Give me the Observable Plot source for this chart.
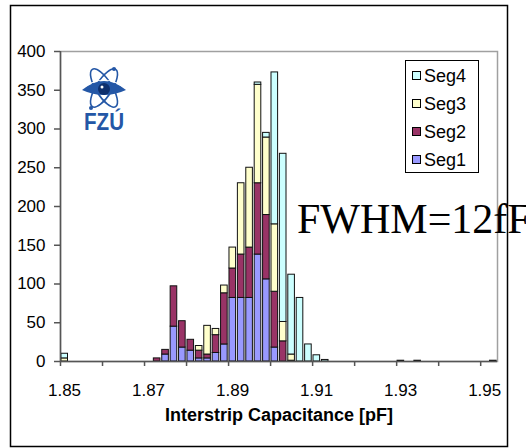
<!DOCTYPE html>
<html>
<head>
<meta charset="utf-8">
<script src="https://cdn.jsdelivr.net/npm/d3@7"></script>
<script src="https://cdn.jsdelivr.net/npm/@observablehq/plot@0.6"></script>
<style>
  html, body { margin: 0; padding: 0; background: #fff; }
  svg { display: block; }
</style>
</head>
<body>
<div id="chart"></div>
<script>
// ---- data ----
const series = ["Seg1", "Seg2", "Seg3", "Seg4"];
const seriesColors = ["#9999ff", "#993366", "#ffffcc", "#ccffff"];
const binWidth = 0.002;
const binStarts = [1.850, 1.872, 1.874, 1.876, 1.878, 1.880, 1.882, 1.884, 1.886, 1.888,
                   1.890, 1.892, 1.894, 1.896, 1.898, 1.900, 1.902, 1.904, 1.906, 1.908,
                   1.910, 1.912, 1.930, 1.934, 1.952];
const seg1 = [0, 0, 9, 45, 18, 14, 4, 4, 11, 22, 82, 82, 82, 138, 106, 18, 0, 0, 0, 0, 0, 0, 0, 0, 0];
const seg2 = [0, 4, 6, 52, 34, 14, 10, 5, 23, 66, 38, 56, 65, 92, 83, 72, 26, 1, 0, 0, 0, 0, 0, 0, 0];
const seg3 = [4, 0, 0, 0, 0, 0, 6, 37, 8, 10, 27, 92, 103, 127, 100, 87, 25, 8, 0, 0, 0, 0, 0, 0, 0];
const seg4 = [6, 0, 0, 0, 0, 0, 0, 0, 0, 0, 0, 0, 0, 3, 6, 196, 217, 103, 82, 22, 8, 2, 1, 1, 1];
const yTicks = [0, 50, 100, 150, 200, 250, 300, 350, 400];
const xTickMarks = [1.85, 1.86, 1.87, 1.88, 1.89, 1.90, 1.91, 1.92, 1.93, 1.94, 1.95];
const xTickLabels = [1.85, 1.87, 1.89, 1.91, 1.93, 1.95];
const xLabel = "Interstrip Capacitance [pF]";
const annotation = "FWHM=12fF";

const segValues = [seg1, seg2, seg3, seg4];
const rows = [];
series.forEach((s, i) => {
  binStarts.forEach((b, j) => {
    const v = segValues[i][j];
    if (v > 0) rows.push({x1: b, x2: +(b + binWidth).toFixed(3), count: v, series: s});
  });
});

const chart = Plot.plot({
  width: 526,
  height: 448,
  marginLeft: 60,
  marginRight: 29,
  marginTop: 51,
  marginBottom: 87,
  x: {domain: [1.85, 1.954]},
  y: {domain: [0, 400]},
  color: {domain: series, range: seriesColors},
  style: {
    fontFamily: "'Liberation Sans', Arial, sans-serif",
    fontSize: "17px",
    color: "#000",
    background: "#fff",
    overflow: "hidden"
  },
  marks: [
    Plot.frame({stroke: "#a0a0a0", strokeWidth: 1.5}),
    Plot.rectY(rows, {
      x1: "x1", x2: "x2", y: "count", fill: "series",
      stroke: "#111", strokeWidth: 1, insetLeft: 0.9, insetRight: 0.9
    }),
    Plot.ruleX([1.85], {stroke: "#555", strokeWidth: 1.5}),
    Plot.ruleY([0], {stroke: "#555", strokeWidth: 1.5}),
    Plot.axisY({ticks: yTicks, tickSize: 6, tickPadding: 9, label: null, stroke: "#555", strokeWidth: 1.5, tickFormat: d => String(d)}),
    Plot.axisX({ticks: xTickMarks, tickSize: 5, label: null, stroke: "#555", strokeWidth: 1.5, tickFormat: () => ""}),
    Plot.axisX({ticks: xTickLabels, tickSize: 0, tickPadding: 22, dx: 4, label: null, tickFormat: d3.format(".2f")}),
    Plot.text([xLabel], {frameAnchor: "bottom", dy: 59, fontWeight: "bold", fontSize: 18, text: d => d})
  ]
});

document.getElementById("chart").appendChild(chart);

const svg = d3.select(chart);

// annotation
svg.append("text")
  .attr("x", 297).attr("y", 233)
  .attr("text-anchor", "start")
  .attr("font-family", "'Liberation Serif', 'Times New Roman', serif")
  .attr("font-size", 42)
  .attr("fill", "#000")
  .text(annotation);

// legend
const lg = svg.append("g").attr("text-anchor", "start");
lg.append("rect").attr("x", 405.5).attr("y", 60.5).attr("width", 73).attr("height", 112)
  .attr("fill", "#fff").attr("stroke", "#000").attr("stroke-width", 1);
const legendOrder = series.slice().reverse();
legendOrder.forEach((s, i) => {
  const cy = 75.5 + i * 28;
  lg.append("rect").attr("x", 412.5).attr("y", cy - 4).attr("width", 8).attr("height", 8)
    .attr("fill", seriesColors[series.indexOf(s)]).attr("stroke", "#000").attr("stroke-width", 1);
  lg.append("text").attr("x", 424).attr("y", cy).attr("dy", "0.36em")
    .attr("text-anchor", "start")
    .attr("font-size", 18).attr("fill", "#000").text(s);
});

// logo (FZU)
const logo = svg.append("g");
const blue = "#2457a6";
[-58, 58].forEach(a => {
  logo.append("ellipse").attr("cx", 104).attr("cy", 88).attr("rx", 22).attr("ry", 8)
    .attr("transform", `rotate(${a} 104 88)`)
    .attr("fill", "none").attr("stroke", blue).attr("stroke-width", 1.6);
});
logo.append("path").attr("d", "M82,90 Q104,72 126,90 Q104,100 82,90 Z").attr("fill", blue);
logo.append("path").attr("d", "M86,86 Q104,74 122,86").attr("fill", "none").attr("stroke", "#fff").attr("stroke-width", 1.2);
logo.append("circle").attr("cx", 104).attr("cy", 89).attr("r", 6).attr("fill", "#0e2f6d");
logo.append("circle").attr("cx", 102).attr("cy", 87).attr("r", 1.5).attr("fill", "#fff");
logo.append("circle").attr("cx", 114).attr("cy", 69).attr("r", 2).attr("fill", blue);
logo.append("circle").attr("cx", 91).attr("cy", 108).attr("r", 2).attr("fill", blue);
logo.append("text").attr("x", 104).attr("y", 130).attr("text-anchor", "middle")
  .attr("font-family", "'Liberation Sans Narrow', 'Arial Narrow', 'Liberation Sans', sans-serif")
  .attr("font-weight", "bold").attr("font-size", 24).attr("fill", blue)
  .attr("textLength", 40).attr("lengthAdjust", "spacingAndGlyphs")
  .text("FZÚ");

// outer chart border
svg.append("rect").attr("x", 10.5).attr("y", 5.5).attr("width", 497).attr("height", 441)
  .attr("fill", "none").attr("stroke", "#000").attr("stroke-width", 1.5);
</script>
</body>
</html>
